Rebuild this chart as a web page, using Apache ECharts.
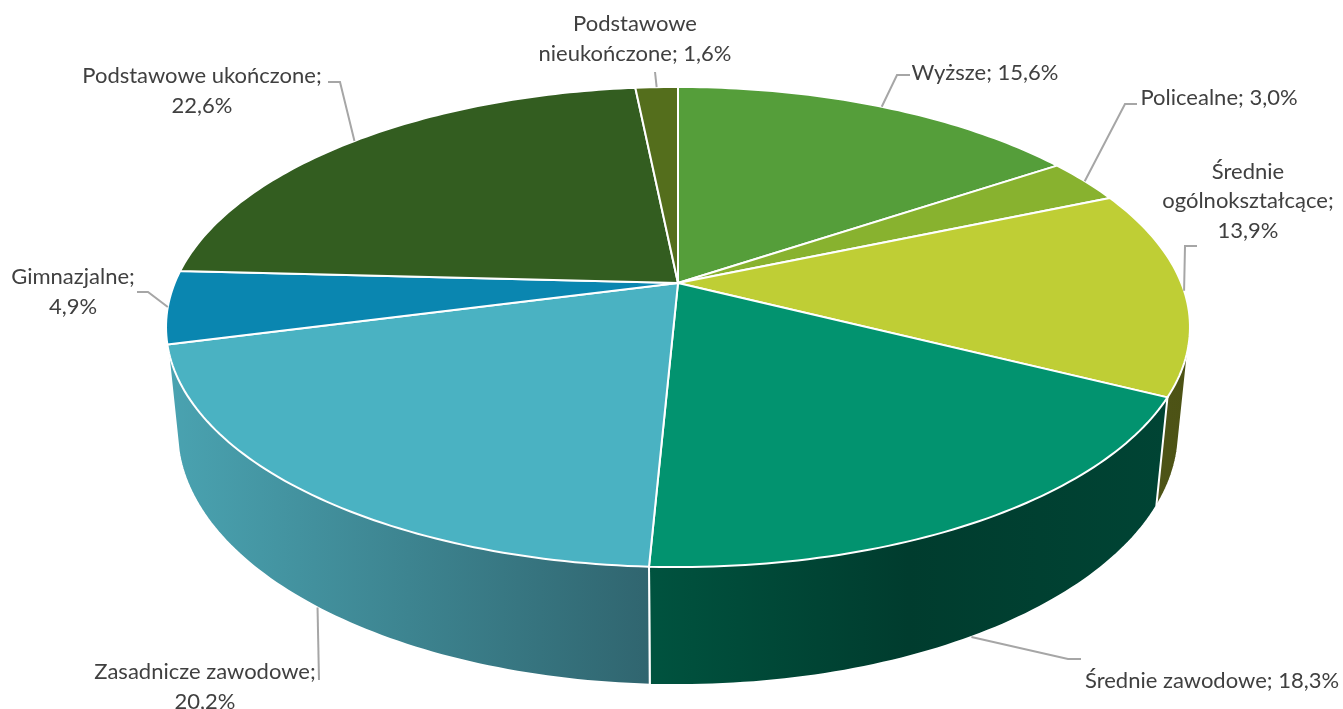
<!DOCTYPE html>
<html>
<head>
<meta charset="utf-8">
<style>html,body{margin:0;padding:0;background:#fff}#chart{width:1343px;height:709px}</style>
<script src="https://cdn.jsdelivr.net/npm/echarts@6/dist/echarts.min.js"></script>
</head>
<body>
<div id="chart"></div>
<script>
const categories = ['Wyższe','Policealne','Średnie ogólnokształcące','Średnie zawodowe','Zasadnicze zawodowe','Gimnazjalne','Podstawowe ukończone','Podstawowe nieukończone'];
const shares = [15.6,3.0,13.9,18.3,20.2,4.9,22.6,1.6];
const labelTexts = ['Wyższe; 15,6%','Policealne; 3,0%','Średnie\nogólnokształcące;\n13,9%','Średnie zawodowe; 18,3%','Zasadnicze zawodowe;\n20,2%','Gimnazjalne;\n4,9%','Podstawowe ukończone;\n22,6%','Podstawowe\nnieukończone; 1,6%'];
const topColors = ['#559e3a','#88b22f','#bfce35','#02936f','#4ab2c2','#0a86b0','#335d20','#546e1c'];
const sideStops = [null,null,['#50561a','#4c5214'],['#00533f','#003c2e','#004434'],['#4aa3b1','#30656f'],null,null,null];
const labelCentres = [[985,73],[1219,98],[1248,201],[1212,681],[205,687],[73,292],[202,91],[635,39]];
const leaderBends = [[[897,75],[910,75]],[[1125,104],[1137,104]],[[1185,246],[1197,246]],[[1068,659],[1081,659]],[[319,680]],[[148,292],[137,292]],[[340,82],[328,82]],[[655,72]]];

// Perspective projection of the pie disc
const P = {cx:678, cy:283, A:503.3, B:232, k:0.1833, C:105, M:0.0215};
function topPt(theta){
  const u=Math.sin(theta), t=Math.cos(theta), w=1+P.k*t;
  return [P.cx+P.A*u/w, P.cy-P.B*t/w];
}
function bottomPt(theta){
  const u=Math.sin(theta), t=Math.cos(theta), w=1+P.k*t+P.M;
  return [P.cx+P.A*u/w, P.cy+(-P.B*t+P.C)/w];
}
const total = shares.reduce((a,b)=>a+b,0);
const FONT = 'Lato, "Open Sans", sans-serif';
const SIDE_LEADERS = [3,4]; // slices whose leader attaches to the side wall

function arc(fn,a0,a1){
  const n=Math.max(2,Math.ceil((a1-a0)/(Math.PI/180)));
  const pts=[];
  for(let i=0;i<=n;i++) pts.push(fn(a0+(a1-a0)*i/n));
  return pts;
}
function hull(points){
  const p=points.slice().sort((a,b)=>a[0]-b[0]||a[1]-b[1]);
  const cross=(o,a,b)=>(a[0]-o[0])*(b[1]-o[1])-(a[1]-o[1])*(b[0]-o[0]);
  const lo=[],up=[];
  for(const q of p){while(lo.length>1&&cross(lo[lo.length-2],lo[lo.length-1],q)<=0)lo.pop();lo.push(q);}
  for(const q of p.slice().reverse()){while(up.length>1&&cross(up[up.length-2],up[up.length-1],q)<=0)up.pop();up.push(q);}
  return lo.slice(0,-1).concat(up.slice(0,-1));
}
function renderItem(params,api){
  const i=params.dataIndex;
  let before=0;
  for(let j=0;j<i;j++) before+=shares[j];
  const a0=before/total*2*Math.PI;
  const a1=(before+api.value(0))/total*2*Math.PI;
  const mid=(a0+a1)/2;
  const topArc=arc(topPt,a0,a1);
  const start=SIDE_LEADERS.includes(i)?bottomPt(mid):topPt(mid);
  const children=[
    {type:'polygon',z2:2,silent:true,shape:{points:[[P.cx,P.cy]].concat(topArc)},
      style:{fill:topColors[i],stroke:'#fff',lineWidth:2,lineJoin:'round'}},
    {type:'polyline',z2:3,silent:true,shape:{points:[start].concat(leaderBends[i])},
      style:{fill:null,stroke:'#a6a6a6',lineWidth:2}},
    {type:'text',z2:4,silent:true,style:{text:labelTexts[i],x:labelCentres[i][0],y:labelCentres[i][1],
      align:'center',verticalAlign:'middle',fill:'#404040',fontFamily:FONT,fontSize:22,lineHeight:29.5}}
  ];
  if(sideStops[i]){
    const stops=sideStops[i].map((c,n,arr)=>({offset:n/(arr.length-1),color:c}));
    children.unshift({type:'polygon',z2:1,silent:true,shape:{points:hull(topArc.concat(arc(bottomPt,a0,a1)))},
      style:{fill:new echarts.graphic.LinearGradient(0,0,1,0,stops),stroke:'#fff',lineWidth:2,lineJoin:'round'}});
  }
  return {type:'group',children};
}
const chart=echarts.init(document.getElementById('chart'),null,{renderer:'canvas'});
chart.setOption({
  animation:false,
  backgroundColor:'#ffffff',
  series:[{type:'custom',coordinateSystem:'none',renderItem,
    data:shares.map((v,i)=>({name:categories[i],value:[v]}))}]
});
</script>
</body>
</html>
